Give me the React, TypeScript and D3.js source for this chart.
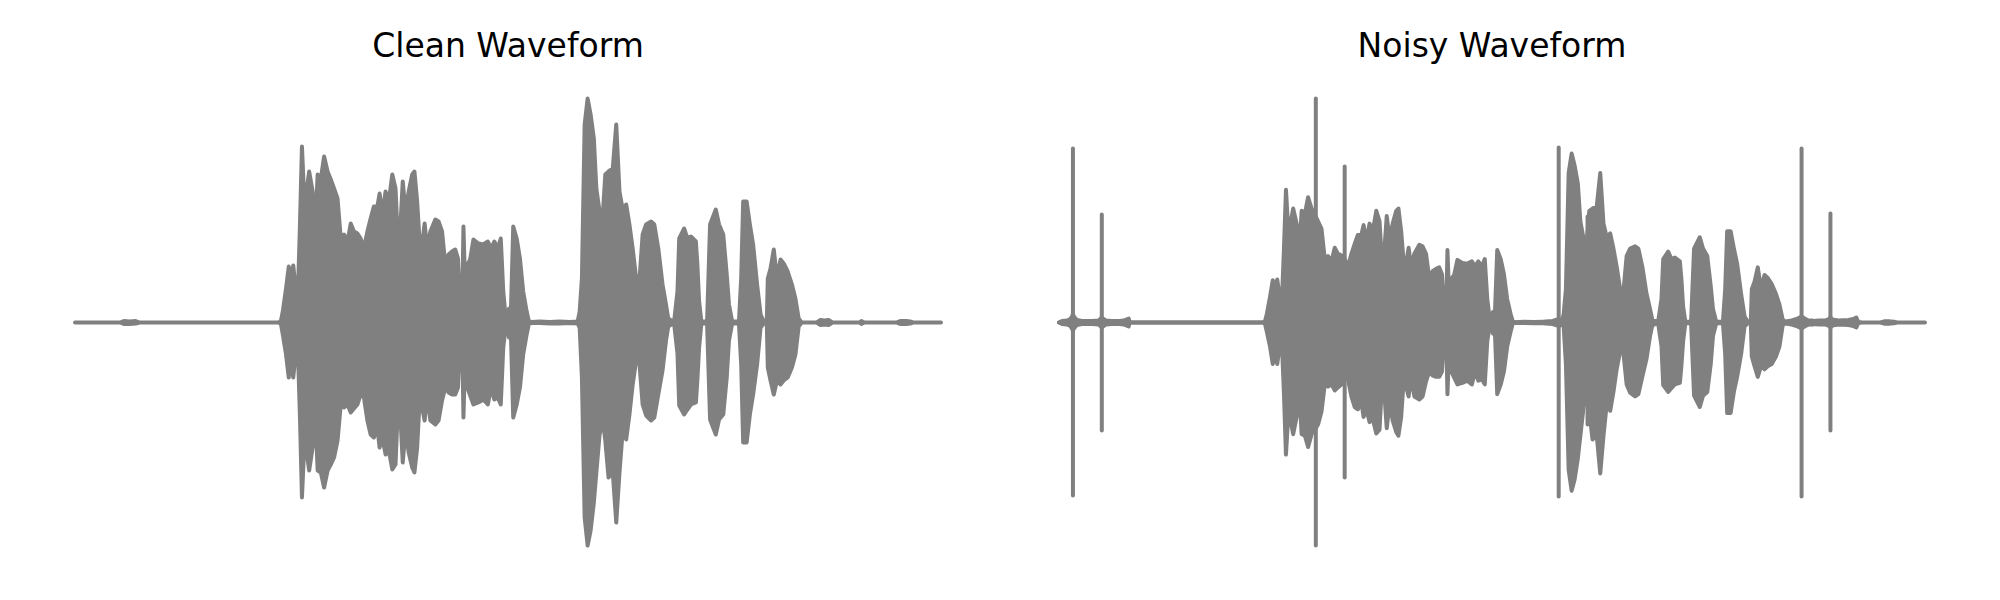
import React from "react";
import * as d3 from "d3";

// ---------- data (time in ms, amplitude in int16-like sample units) ----------
const titles = ["Clean Waveform", "Noisy Waveform"];
const duration = 3480;

// per-bin envelope of the clean speech signal
const cleanTime = [
  0, 180, 196, 220, 244, 260, 820, 828, 835, 848,
  859, 868, 877, 888, 896, 904, 912, 921, 930, 941,
  955, 965, 975, 988, 1001, 1015, 1028, 1041, 1055, 1068,
  1081, 1095, 1108, 1121, 1135, 1148, 1161, 1175, 1188, 1201,
  1215, 1224, 1235, 1248, 1261, 1275, 1288, 1301, 1317, 1328,
  1341, 1355, 1364, 1375, 1384, 1395, 1405, 1415, 1428, 1448,
  1461, 1475, 1488, 1501, 1515, 1528, 1539, 1548, 1555, 1561,
  1568, 1577, 1588, 1601, 1621, 1641, 1659, 1672, 1685, 1699,
  1711, 1721, 1732, 1744, 1752, 1761, 1775, 1788, 1801, 1815,
  1824, 1836, 1868, 1908, 1948, 1988, 2020, 2028, 2037, 2048,
  2060, 2072, 2085, 2095, 2108, 2121, 2131, 2144, 2161, 2175,
  2188, 2201, 2215, 2228, 2241, 2255, 2268, 2281, 2295, 2315,
  2328, 2344, 2361, 2375, 2384, 2396, 2408, 2421, 2428, 2448,
  2461, 2475, 2495, 2501, 2508, 2517, 2540, 2552, 2575, 2588,
  2605, 2619, 2628, 2641, 2668, 2677, 2685, 2699, 2712, 2725,
  2741, 2755, 2768, 2780, 2784, 2795, 2808, 2821, 2835, 2848,
  2864, 2881, 2895, 2908, 2920, 2980, 2996, 3012, 3028, 3044,
  3152, 3160, 3172, 3300, 3316, 3340, 3356, 3368, 3480,
];
const cleanMax = [
  0, 0, 150, 100, 150, 0, 0, 200, 1100, 3400,
  5600, 4400, 5700, 3100, 3100, 9800, 17600, 12400, 13100, 15100,
  13100, 9100, 14800, 14400, 16600, 15100, 14300, 13400, 12400, 8400,
  8800, 8100, 9900, 9100, 8900, 8400, 7400, 9100, 10400, 11600,
  11600, 12900, 10800, 13100, 12100, 14800, 13400, 6400, 14100, 11100,
  13100, 14800, 15100, 12100, 8400, 7800, 9900, 7400, 9100, 10300,
  10100, 9100, 5800, 6800, 7100, 7300, 6400, 1400, 100, 9600,
  3100, 5800, 6300, 8300, 7900, 7800, 8100, 7400, 8100, 7400,
  8400, 3100, 100, 1400, 1400, 9600, 8400, 6400, 3100, 1100,
  100, 50, 100, 50, 100, 50, 100, 1100, 4400, 19800,
  22400, 20800, 18400, 13400, 11100, 10800, 14800, 15100, 15400, 19800,
  13100, 11300, 11800, 9800, 7400, 4400, 4100, 8800, 9800, 10100,
  9800, 7400, 3800, 1800, 400, 200, 200, 3100, 8400, 9400,
  8400, 8600, 8100, 5800, 2100, 100, 100, 9800, 11300, 9800,
  8800, 4800, 1800, 100, 100, 4400, 12100, 12100, 9800, 7800,
  3800, 800, 100, 100, 4400, 5400, 7300, 4400, 6300, 5900,
  5100, 3800, 2400, 400, 0, 0, 250, 200, 250, 0,
  0, 150, 0, 0, 150, 150, 100, 0, 0,
];
const cleanMin = [
  0, 0, -150, -150, -100, 0, 0, -200, -1200, -3200,
  -5500, -3600, -5500, -2800, -3000, -9500, -17500, -12500, -12800, -14800,
  -12500, -8500, -14800, -15000, -16500, -14800, -14200, -13500, -11800, -8200,
  -8500, -8200, -9000, -8600, -8200, -7200, -7500, -9800, -11200, -11500,
  -10500, -12500, -11500, -13200, -12800, -14700, -14200, -6200, -14000, -10800,
  -13000, -14500, -15000, -12500, -8200, -8500, -9800, -7200, -9800, -10200,
  -9800, -7800, -6500, -7000, -7200, -7200, -6500, -1500, -100, -9500,
  -3100, -6500, -7300, -8200, -8000, -7700, -8200, -6500, -7700, -7500,
  -8200, -2500, -100, -1500, -1500, -9500, -8200, -6500, -3200, -1200,
  -100, -50, -50, -100, -100, -50, -100, -500, -5500, -19500,
  -22300, -20800, -18000, -15000, -11200, -9800, -11800, -15500, -15000, -20000,
  -15000, -10800, -11700, -9200, -6200, -3800, -4000, -8200, -9300, -9800,
  -9500, -7200, -4800, -1800, -400, -200, -200, -3100, -8300, -9200,
  -8700, -8200, -8000, -5800, -2500, -100, -100, -9700, -11200, -9700,
  -9200, -5500, -1800, -100, -100, -4200, -12000, -12000, -9200, -7200,
  -4200, -500, -100, -100, -4500, -5800, -7200, -5800, -6200, -5800,
  -5500, -4500, -3200, -400, 0, 0, -250, -200, -250, 0,
  0, -150, 0, 0, -150, -150, -100, 0, 0,
];

// background noise added in the noisy recording
const noiseTime = [
  0, 12, 32, 44, 52, 56, 60, 72, 92, 132,
  160, 168, 172, 176, 188, 212, 244, 260, 280, 284,
  1932, 1960, 1984, 1996, 2008, 2020, 2036, 2900, 2920, 2944,
  2964, 2976, 2984, 2996, 3012, 3032, 3052, 3080, 3092, 3100,
  3108, 3132, 3172, 3192, 3204, 3212, 3220,
];
const noiseMax = [
  0, 200, 265, 400, 795, 1060, 795, 330, 200, 200,
  265, 530, 660, 530, 265, 200, 200, 265, 530, 0,
  0, 130, 200, 330, 460, 330, 0, 0, 130, 265,
  460, 660, 795, 530, 265, 200, 265, 265, 400, 660,
  400, 265, 330, 460, 660, 65, 0,
];
const noiseMin = [
  0, -200, -265, -400, -795, -1060, -795, -330, -200, -200,
  -265, -530, -660, -530, -265, -200, -200, -265, -530, 0,
  0, -130, -200, -330, -460, -330, 0, 0, -130, -265,
  -460, -660, -795, -530, -265, -200, -265, -265, -400, -660,
  -400, -265, -330, -460, -660, -65, 0,
];

// impulse (click) noise
const spikeTime = [56, 172, 1032, 1148, 2008, 2124, 2984, 3100];
const spikeMax = [23060, 14310, 29680, 20670, 23190, 14050, 23060, 14440];
const spikeMin = [-22920, -14310, -29550, -20540, -23060, -13520, -23060, -14310];

// ---------- helpers ----------
type Pt = { t: number; hi: number; lo: number };
const zipEnv = (t: number[], hi: number[], lo: number[]): Pt[] =>
  t.map((v, i) => ({ t: v, hi: hi[i], lo: lo[i] }));

const cleanEnv = zipEnv(cleanTime, cleanMax, cleanMin);
const noiseEnv = zipEnv(noiseTime, noiseMax, noiseMin);
const spikes = zipEnv(spikeTime, spikeMax, spikeMin);

const W = 2000;
const H = 600;
const GRAY = "#808080";
const CENTER_Y = 322.5;
const HALF = 224;

const panels = [
  { title: titles[0], xr: [75, 941], envs: [cleanEnv], spikes: [] as Pt[] },
  { title: titles[1], xr: [1059, 1925], envs: [cleanEnv, noiseEnv], spikes },
];

export default function App() {
  return (
    <svg
      width={W}
      height={H}
      viewBox={`0 0 ${W} ${H}`}
      style={{ position: "absolute", left: 0, top: 0, display: "block", background: "#fff" }}
    >
      <rect x={0} y={0} width={W} height={H} fill="#fff" />
      {panels.map((p, pi) => {
        const x = d3.scaleLinear().domain([0, duration]).range(p.xr);
        const all = [...p.envs.flat(), ...p.spikes];
        const M = d3.max(all, (d) => Math.max(Math.abs(d.hi), Math.abs(d.lo))) as number;
        const y = d3
          .scaleLinear()
          .domain([-M, M])
          .range([CENTER_Y + HALF, CENTER_Y - HALF]);
        const area = d3
          .area<Pt>()
          .x((d) => x(d.t))
          .y0((d) => y(d.lo))
          .y1((d) => y(d.hi))
          .curve(d3.curveLinear);
        const cx = (p.xr[0] + p.xr[1]) / 2;
        return (
          <g key={pi}>
            <text
              x={cx}
              y={57}
              textAnchor="middle"
              fontFamily="DejaVu Sans, sans-serif"
              fontSize={33}
              fill="#000"
            >
              {p.title}
            </text>
            {p.envs.map((env, ei) => (
              <path
                key={ei}
                d={area(env) || ""}
                fill={GRAY}
                stroke={GRAY}
                strokeWidth={4}
                strokeLinejoin="round"
              />
            ))}
            {p.spikes.map((s, si) => (
              <line
                key={si}
                x1={x(s.t)}
                x2={x(s.t)}
                y1={y(s.hi)}
                y2={y(s.lo)}
                stroke={GRAY}
                strokeWidth={4}
                strokeLinecap="round"
              />
            ))}
          </g>
        );
      })}
    </svg>
  );
}
